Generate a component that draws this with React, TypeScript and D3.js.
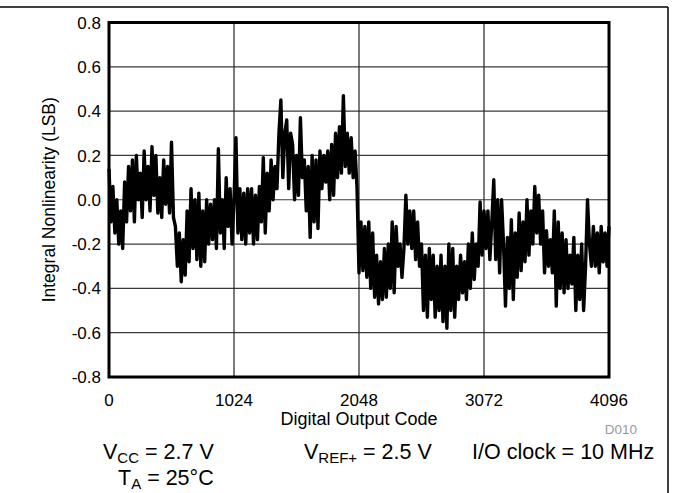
import React from 'react'
import * as d3 from 'd3'

// INL samples, one every 16 output codes
const codeStep = 16
const inlValues = [
  0.14, -0.1, 0.06, -0.15, 0.0, -0.2, -0.05, -0.22,
  0.08, -0.1, 0.15, -0.05, 0.18, -0.1, 0.2, 0.0,
  0.12, -0.08, 0.22, 0.0, 0.15, -0.05, 0.24, 0.02,
  0.2, -0.06, 0.1, -0.08, 0.18, -0.02, 0.15, -0.06,
  0.26, -0.08, -0.12, -0.3, -0.15, -0.37, -0.18, -0.34,
  -0.05, -0.28, 0.05, -0.22, 0.0, -0.27, 0.03, -0.3,
  -0.05, -0.28, 0.0, -0.2, -0.02, -0.18, 0.0, -0.22,
  0.23, -0.15, 0.0, -0.22, 0.1, -0.12, 0.05, -0.2,
  0.0, 0.28, -0.15, 0.05, -0.18, 0.03, -0.2, 0.05,
  -0.15, 0.05, -0.2, 0.02, -0.18, 0.06, -0.1, 0.19,
  -0.15, 0.12, -0.05, 0.18, 0.0, 0.15, 0.05, 0.3,
  0.45, 0.1, 0.3, 0.36, 0.05, 0.3, 0.25, 0.0,
  0.2, 0.02, 0.37, 0.1, 0.18, -0.05, 0.15, -0.17,
  0.2, -0.1, 0.18, -0.13, 0.22, 0.05, 0.2, 0.08,
  0.22, 0.0, 0.25, 0.02, 0.3, 0.1, 0.33, 0.12,
  0.47, 0.15, 0.3, 0.12, 0.28, 0.1, 0.22, 0.05,
  -0.33, -0.1, -0.32, -0.12, -0.35, -0.1, -0.4, -0.15,
  -0.44, -0.25, -0.47, -0.28, -0.45, -0.22, -0.44, -0.2,
  -0.4, -0.1, -0.42, -0.12, -0.3, -0.2, -0.35, -0.22,
  0.02, -0.2, -0.05, -0.22, -0.05, -0.27, -0.1, -0.3,
  -0.2, -0.5, -0.25, -0.53, -0.22, -0.45, -0.25, -0.53,
  -0.3, -0.5, -0.25, -0.55, -0.3, -0.58, -0.2, -0.5,
  -0.22, -0.53, -0.3, -0.45, -0.25, -0.42, -0.28, -0.45,
  -0.2, -0.4, -0.15, -0.36, -0.2, -0.3, -0.01, -0.25,
  -0.05, -0.22, -0.05, -0.27, -0.1, 0.09, -0.27, 0.0,
  -0.33, 0.0, -0.2, -0.48, -0.17, -0.4, -0.09, -0.45,
  -0.15, -0.35, -0.06, -0.32, -0.1, -0.28, 0.0, -0.25,
  -0.05, -0.2, 0.06, -0.15, 0.02, -0.2, -0.05, -0.33,
  -0.14, -0.3, -0.18, -0.33, -0.05, -0.48, -0.1, -0.4,
  -0.15, -0.42, -0.18, -0.4, -0.25, -0.38, -0.17, -0.5,
  -0.25, -0.45, -0.2, -0.5, -0.3, 0.0, -0.2, -0.3,
  -0.12, -0.3, -0.15, -0.33, -0.12, -0.28, -0.15, -0.3,
  -0.12,
]

const xTicks = [0, 1024, 2048, 3072, 4096]
const yTicks = [-0.8, -0.6, -0.4, -0.2, 0.0, 0.2, 0.4, 0.6, 0.8]

const W = 673
const H = 493
const plot = { left: 109, right: 609, top: 22.5, bottom: 377 }
const font = "'Liberation Sans', Arial, sans-serif"

export default function App() {
  const x = d3.scaleLinear().domain([0, 4096]).range([plot.left, plot.right])
  const y = d3.scaleLinear().domain([-0.8, 0.8]).range([plot.bottom, plot.top])

  const line = d3.line<number>()
    .x((_, i) => x(i * codeStep))
    .y(d => y(d))

  return (
    <div style={{ position: 'fixed', left: 0, top: 0 }}>
      <svg width={W} height={H} style={{ display: 'block', background: '#fff' }}>
        {/* outer frame */}
        <line x1={0} x2={668} y1={7} y2={7} stroke="#000" strokeWidth={1.5} />
        <line x1={668} x2={668} y1={7} y2={H} stroke="#000" strokeWidth={1.5} />

        {/* grid */}
        {yTicks.slice(1, -1).map(t => (
          <line key={'gy' + t} x1={plot.left} x2={plot.right} y1={y(t)} y2={y(t)}
            stroke="#3a3a3a" strokeWidth={1.2} />
        ))}
        {xTicks.slice(1, -1).map(t => (
          <line key={'gx' + t} x1={x(t)} x2={x(t)} y1={plot.top} y2={plot.bottom}
            stroke="#222" strokeWidth={1.2} />
        ))}

        {/* data */}
        <path d={line(inlValues) ?? ''} fill="none" stroke="#000" strokeWidth={3.4}
          strokeLinejoin="round" />

        {/* plot border */}
        <rect x={plot.left} y={plot.top} width={plot.right - plot.left}
          height={plot.bottom - plot.top} fill="none" stroke="#000" strokeWidth={3} />

        {/* y ticks */}
        {yTicks.map(t => (
          <text key={'ty' + t} x={101} y={y(t)} dy="0.36em" textAnchor="end"
            fontFamily={font} fontSize={17} fill="#000">
            {t.toFixed(1)}
          </text>
        ))}
        {/* x ticks */}
        {xTicks.map(t => (
          <text key={'tx' + t} x={x(t)} y={406} textAnchor="middle"
            fontFamily={font} fontSize={17} fill="#000">
            {t}
          </text>
        ))}

        <text x={(plot.left + plot.right) / 2} y={425} textAnchor="middle"
          fontFamily={font} fontSize={18} fill="#000">Digital Output Code</text>
        <text transform={`translate(55,${(plot.top + plot.bottom) / 2}) rotate(-90)`}
          textAnchor="middle" fontFamily={font} fontSize={17.5} fill="#000">
          Integral Nonlinearity (LSB)
        </text>

        <text x={621} y={434} textAnchor="middle" fontFamily={font} fontSize={13.5}
          fill="#999">D010</text>

        <text x={103} y={459} fontFamily={font} fontSize={21.5} fill="#000">
          V<tspan fontSize={15} dy={4}>CC</tspan><tspan dy={-4}> = 2.7 V</tspan>
        </text>
        <text x={118} y={485} fontFamily={font} fontSize={21.5} fill="#000">
          T<tspan fontSize={15} dy={4}>A</tspan><tspan dy={-4}> = 25°C</tspan>
        </text>
        <text x={304} y={459} fontFamily={font} fontSize={21.5} fill="#000">
          V<tspan fontSize={15} dy={4}>REF+</tspan><tspan dy={-4}> = 2.5 V</tspan>
        </text>
        <text x={472} y={459} fontFamily={font} fontSize={21.5} fill="#000">
          I/O clock = 10 MHz
        </text>
      </svg>
    </div>
  )
}
